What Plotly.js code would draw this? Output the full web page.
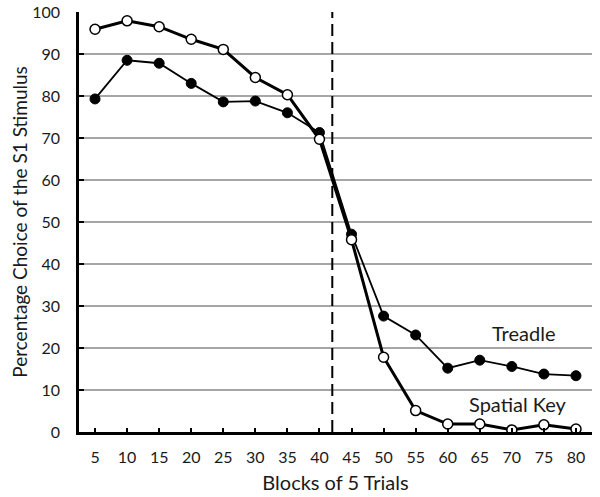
<!DOCTYPE html>
<html>
<head>
<meta charset="utf-8">
<script src="https://cdn.plot.ly/plotly-3.0.1.min.js"></script>
<style>
  html, body { margin: 0; padding: 0; background: #fff; }
  #chart { width: 600px; height: 497px; }
</style>
</head>
<body>
<div id="chart"></div>
<script>
// blocks of 5 trials
var blocks = [5, 10, 15, 20, 25, 30, 35, 40, 45, 50, 55, 60, 65, 70, 75, 80];

// percentage choice of S1
var treadle = [79.3, 88.5, 87.8, 83.0, 78.6, 78.8, 76.0, 71.3, 47.1, 27.6, 23.1, 15.2, 17.1, 15.6, 13.8, 13.4];
var spatialKey = [95.9, 97.9, 96.5, 93.5, 91.1, 84.4, 80.3, 69.7, 45.8, 17.8, 5.1, 1.9, 1.9, 0.5, 1.7, 0.7];

// reversal point (dashed line)
var reversalAt = 42;

var yTicks = [0, 10, 20, 30, 40, 50, 60, 70, 80, 90, 100];

var tickFont = {family: 'Lato, sans-serif', size: 16, color: '#1a1a1a'};
var titleFont = {family: 'Lato, sans-serif', size: 20, color: '#1a1a1a'};

var trace1 = {
  x: blocks,
  y: treadle,
  type: 'scatter',
  mode: 'lines+markers',
  name: 'Treadle',
  line: {color: '#000', width: 1.8},
  marker: {symbol: 'circle', size: 10, color: '#000', line: {color: '#000', width: 1}}
};

var trace2 = {
  x: blocks,
  y: spatialKey,
  type: 'scatter',
  mode: 'lines+markers',
  name: 'Spatial Key',
  line: {color: '#000', width: 3},
  marker: {symbol: 'circle', size: 10, color: '#fff', line: {color: '#000', width: 1.5}}
};

var data = [trace1, trace2];

var layout = {
  width: 600,
  height: 497,
  margin: {l: 79, r: 8, t: 12, b: 65},
  paper_bgcolor: '#fff',
  plot_bgcolor: '#fff',
  showlegend: false,
  font: tickFont,
  xaxis: {
    range: [2.5, 82.5],
    tickvals: blocks,
    ticktext: blocks.map(String),
    ticks: 'inside',
    ticklen: 4,
    tickwidth: 2,
    tickcolor: '#000',
    ticklabelstandoff: 9,
    showgrid: false,
    zeroline: false,
    showline: true,
    linecolor: '#000',
    linewidth: 2.5,
    tickfont: tickFont,
    title: {text: 'Blocks of 5 Trials', font: titleFont, standoff: 12},
    automargin: false
  },
  yaxis: {
    range: [0, 100],
    tickvals: yTicks,
    ticks: 'inside',
    ticklen: 5,
    tickwidth: 2,
    tickcolor: '#000',
    ticklabelstandoff: 13,
    showgrid: true,
    gridcolor: '#a6a6a6',
    gridwidth: 1.5,
    zeroline: false,
    showline: true,
    linecolor: '#000',
    linewidth: 2.5,
    tickfont: tickFont,
    title: {text: 'Percentage Choice of the S1 Stimulus', font: {family: 'Lato, sans-serif', size: 19, color: '#1a1a1a'}, standoff: 0},
    automargin: false
  },
  shapes: [{
    type: 'line',
    xref: 'x',
    yref: 'paper',
    x0: reversalAt,
    x1: reversalAt,
    y0: 0,
    y1: 1,
    line: {color: '#000', width: 2, dash: '12px,6px'}
  }],
  annotations: [
    {x: 71.8, y: 23.6, xref: 'x', yref: 'y', text: 'Treadle', showarrow: false, font: titleFont},
    {x: 71, y: 6.6, xref: 'x', yref: 'y', text: 'Spatial Key', showarrow: false, font: titleFont}
  ]
};

var config = {responsive: false, displayModeBar: false};

Plotly.newPlot('chart', data, layout, config);
</script>
</body>
</html>
